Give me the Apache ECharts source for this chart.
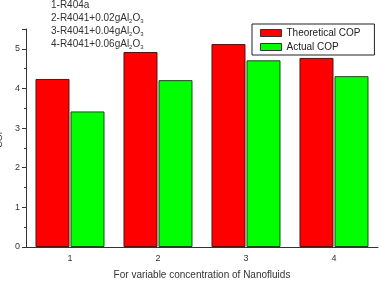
<!DOCTYPE html>
<html>
<head>
<meta charset="utf-8">
<script src="https://cdn.jsdelivr.net/npm/echarts@6/dist/echarts.min.js"></script>
<style>
html,body{margin:0;padding:0;background:#fff;}
#main{width:381px;height:283px;}
</style>
</head>
<body>
<div id="main"></div>
<script>
var categories = ['1', '2', '3', '4'];
var theoretical = [4.24, 4.92, 5.12, 4.77];
var actual = [3.42, 4.21, 4.71, 4.31];
var fluids = [
	'1-R404a',
	'2-R4041+0.02gAl{s|2}O{s|3}',
	'3-R4041+0.04gAl{s|2}O{s|3}',
	'4-R4041+0.06gAl{s|2}O{s|3}'
];

var font = 'Liberation Sans, Arial, sans-serif';
var option = {
	animation: false,
	textStyle: { fontFamily: font },
	title: {
		text: fluids.join('\n'),
		left: 46,
		top: -6,
		textStyle: {
			fontSize: 10,
			fontWeight: 'normal',
			color: '#333',
			lineHeight: 13,
			rich: {
				s: { fontSize: 6, color: '#333', padding: [6, 0, 0, 0] }
			}
		}
	},
	legend: {
		data: ['Theoretical COP', 'Actual COP'],
		orient: 'vertical',
		left: 252,
		top: 24,
		icon: 'rect',
		itemWidth: 21,
		itemHeight: 7,
		itemGap: 4,
		padding: [4, 14, 3, 8],
		borderColor: '#222',
		borderWidth: 1,
		borderRadius: 0,
		itemStyle: { borderColor: '#333', borderWidth: 1 },
		textStyle: { fontSize: 10, color: '#222', fontFamily: font }
	},
	grid: { left: 26, right: 3, top: 29, bottom: 36, containLabel: false, outerBoundsMode: 'none' },
	xAxis: {
		type: 'category',
		data: categories,
		name: 'For variable concentration of Nanofluids',
		nameLocation: 'middle',
		nameGap: 23,
		nameTextStyle: { fontSize: 10, color: '#333' },
		axisLine: { lineStyle: { color: '#333', width: 1 } },
		axisTick: { length: 3, lineStyle: { color: '#333' } },
		axisLabel: { fontSize: 9, color: '#333', margin: 7 }
	},
	yAxis: {
		type: 'value',
		min: 0,
		max: 5.5,
		interval: 1,
		name: 'COP',
		nameLocation: 'middle',
		nameGap: 16,
		nameTextStyle: { fontSize: 9, color: '#333' },
		axisLine: { show: true, lineStyle: { color: '#333', width: 1 } },
		axisTick: { show: true, length: 4, lineStyle: { color: '#333' } },
		minorTick: { show: true, splitNumber: 2, length: 2, lineStyle: { color: '#333' } },
		splitLine: { show: false },
		axisLabel: { fontSize: 9, color: '#333', margin: 6, showMaxLabel: false }
	},
	series: [
		{
			name: 'Theoretical COP',
			type: 'bar',
			data: theoretical,
			barWidth: 34,
			barGap: '3%',
			itemStyle: { color: '#ff0000', borderColor: '#5a1010', borderWidth: 1 }
		},
		{
			name: 'Actual COP',
			type: 'bar',
			data: actual,
			barWidth: 34,
			itemStyle: { color: '#00ff00', borderColor: '#1a4a1a', borderWidth: 1 }
		}
	]
};
var myChart = echarts.init(document.getElementById('main'));
myChart.setOption(option);
</script>
</body>
</html>
